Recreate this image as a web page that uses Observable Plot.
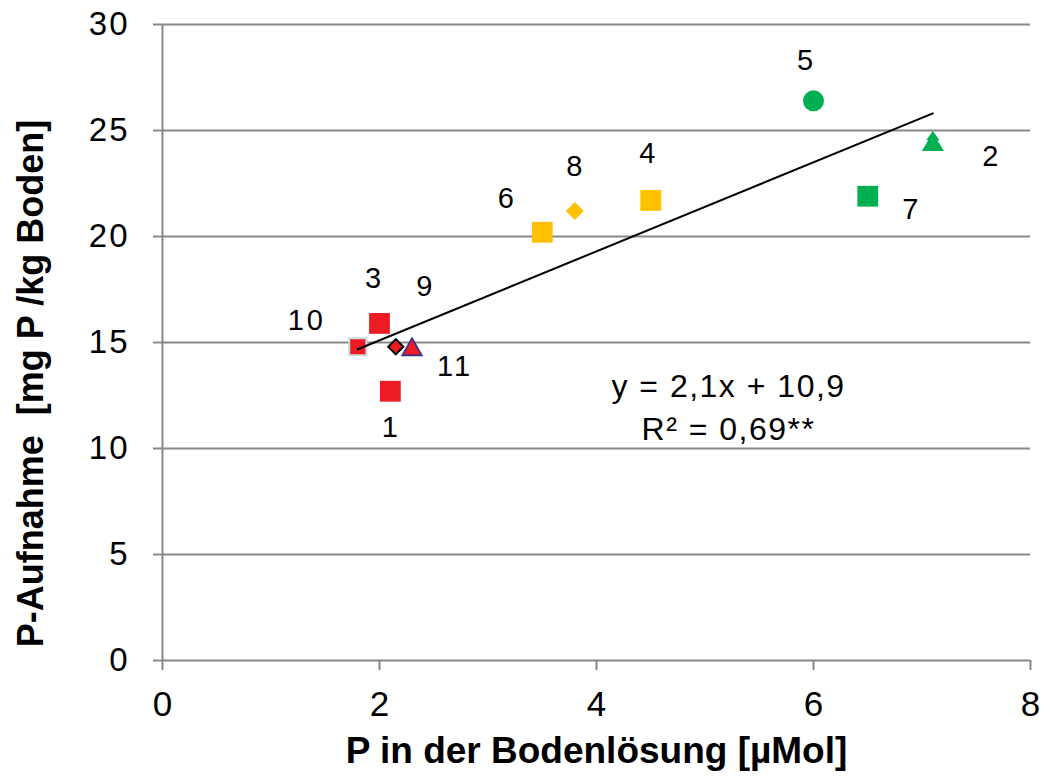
<!DOCTYPE html>
<html>
<head>
<meta charset="utf-8">
<script src="https://cdn.jsdelivr.net/npm/d3@7"></script>
<script src="https://cdn.jsdelivr.net/npm/@observablehq/plot@0.6"></script>
<style>
  html, body { margin: 0; padding: 0; background: #fff; }
  #chart { width: 1043px; height: 776px; }
  .ptlabel text { letter-spacing: 3px; }
  .eq text { letter-spacing: 1.5px; }
  g[aria-label="y-axis tick label"] text { letter-spacing: 2px; }
</style>
</head>
<body>
<div id="chart"></div>
<script>
// ---------- data ----------
const pointIds = ["1", "2", "3", "4", "5", "6", "7", "8", "9", "10", "11"];
const pX = [2.1, 7.1, 2.0, 4.5, 6.0, 3.5, 6.5, 3.8, 2.15, 1.8, 2.3];
const pY = [12.7, 24.5, 15.9, 21.7, 26.4, 20.2, 21.9, 21.2, 14.8, 14.8, 14.8];
const pGroup = ["red", "green", "red", "yellow", "green", "yellow", "green", "yellow", "red", "red", "red"];
const pShape = ["square", "tree", "square", "square", "circle", "square", "square", "diamond", "diamondOutlined", "squareOutlined", "triangle"];
const xTicks = [0, 2, 4, 6, 8];
const yTicks = [0, 5, 10, 15, 20, 25, 30];
const trendSlope = 2.1;
const trendIntercept = 10.9;
const eqLines = ["y = 2,1x + 10,9", "R² = 0,69**"];
const xTitle = "P in der Bodenlösung [µMol]";
const yTitle = "P-Aufnahme\u00a0\u00a0[mg P /kg Boden]";

// ---------- styles / layout ----------
const groupColor = {red: "#ED1C24", yellow: "#FFC000", green: "#00B050"};
const gridColor = "#888888";
const labelOffset = {
  "1": [1, 36], "2": [59, 16], "3": [-5, -45], "4": [-2, -47], "5": [-7, -40],
  "6": [-35, -34], "7": [44, 13], "8": [1, -44], "9": [30, -60], "10": [-51, -26], "11": [43, 20]
};

function poly(pts) {
  return {
    draw(ctx) {
      ctx.moveTo(pts[0][0], pts[0][1]);
      for (let i = 1; i < pts.length; i++) ctx.lineTo(pts[i][0], pts[i][1]);
      ctx.closePath();
    }
  };
}
const sq = (h) => poly([[-h, -h], [h, -h], [h, h], [-h, h]]);
const dia = (h) => poly([[0, -h], [h, 0], [0, h], [-h, 0]]);

const shapeStyle = {
  square: {symbol: sq(10.4), r: 10},
  squareOutlined: {symbol: sq(8.6), r: 10, stroke: "#c9dcdc", strokeWidth: 2},
  circle: {symbol: "circle", r: 10.5},
  diamond: {symbol: dia(9), r: 10},
  diamondOutlined: {symbol: dia(7.6), r: 10, stroke: "#000", strokeWidth: 2},
  triangle: {symbol: poly([[0, -8.6], [9.8, 8.6], [-9.8, 8.6]]), r: 10, stroke: "#2E3192", strokeWidth: 1.6},
  tree: {symbol: poly([[0, -10], [6.7, -0.8], [4.6, -0.8], [11, 10], [-11, 10], [-4.6, -0.8], [-6.7, -0.8]]), r: 10}
};

const points = pointIds.map((id, i) => ({id, x: pX[i], y: pY[i], group: pGroup[i], shape: pShape[i]}));
const trend = d3.extent(pX).map(x => ({x, y: trendSlope * x + trendIntercept}));

const marks = [
  Plot.gridY(yTicks.filter(t => t > 0), {stroke: gridColor, strokeOpacity: 1, strokeWidth: 2}),
  Plot.ruleY([0], {stroke: gridColor, strokeWidth: 2}),
  Plot.ruleX([0], {stroke: gridColor, strokeWidth: 2}),
  Plot.axisY(yTicks, {tickSize: 9, tickPadding: 24, stroke: gridColor, strokeWidth: 2, fill: "#000", fontSize: 33, label: null}),
  Plot.axisX(xTicks, {tickSize: 10, tickPadding: 21, stroke: gridColor, strokeWidth: 2, fill: "#000", fontSize: 35, label: null})
];

points.forEach(p => {
  const s = shapeStyle[p.shape];
  marks.push(Plot.dot([p], {
    x: "x", y: "y", symbol: s.symbol, r: s.r,
    fill: groupColor[p.group],
    stroke: s.stroke || "none", strokeWidth: s.strokeWidth || 0
  }));
});

marks.push(Plot.line(trend, {x: "x", y: "y", stroke: "#000", strokeWidth: 2}));

points.forEach(p => {
  const [dx, dy] = labelOffset[p.id];
  marks.push(Plot.text([p], {
    x: "x", y: "y", text: "id", dx, dy, fontSize: 29, fill: "#000",
    textAnchor: "middle", lineAnchor: "middle", className: "ptlabel"
  }));
});

marks.push(Plot.text([eqLines.join("\n")], {
  frameAnchor: "top-left", dx: 566, dy: 380, text: d => d, fontSize: 32,
  lineHeight: 1.34, textAnchor: "middle", lineAnchor: "middle", fill: "#000", className: "eq"
}));

marks.push(Plot.text([xTitle], {
  frameAnchor: "bottom", dy: 91, text: d => d, fontSize: 37, fontWeight: "bold",
  textAnchor: "middle", lineAnchor: "middle", fill: "#000"
}));

marks.push(Plot.text([yTitle], {
  frameAnchor: "left", dx: -131, dy: 41, rotate: -90, text: d => d, fontSize: 36, fontWeight: "bold",
  textAnchor: "middle", lineAnchor: "middle", fill: "#000"
}));

const chart = Plot.plot({
  width: 1043,
  height: 776,
  marginLeft: 162,
  marginRight: 13,
  marginTop: 24,
  marginBottom: 116,
  x: {domain: [0, 8]},
  y: {domain: [0, 30]},
  style: {fontFamily: "'Liberation Sans', Arial, sans-serif", background: "#fff", color: "#000", overflow: "visible"},
  marks
});

document.getElementById("chart").appendChild(chart);
</script>
</body>
</html>
